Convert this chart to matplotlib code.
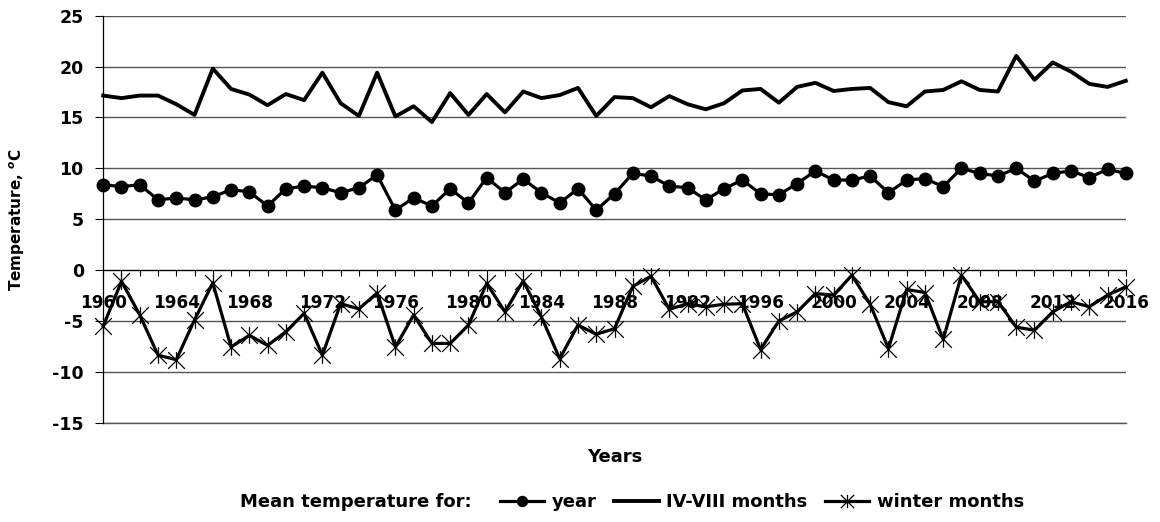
import numpy as np
import matplotlib
matplotlib.use("Agg")
import matplotlib.pyplot as plt
from matplotlib.path import Path

plt.rcParams['font.family'] = ['DejaVu Sans']
plt.rcParams['font.weight'] = 'bold'
plt.rcParams['axes.labelweight'] = 'bold'
plt.rcParams['axes.unicode_minus'] = False
plt.rcParams['mathtext.fontset'] = 'custom'
plt.rcParams['mathtext.rm'] = 'DejaVu Sans:bold'
plt.rcParams['mathtext.bf'] = 'DejaVu Sans:bold'

years = list(range(1960, 2017))

# mean temperature for the year
t_year = [8.4, 8.2, 8.4, 6.9, 7.1, 6.9, 7.2, 7.9, 7.7, 6.3,
          8.0, 8.25, 8.1, 7.6, 8.1, 9.35, 5.9, 7.1, 6.3, 8.0,
          6.6, 9.1, 7.6, 8.95, 7.6, 6.6, 8.0, 5.9, 7.5, 9.5,
          9.25, 8.25, 8.1, 6.9, 8.0, 8.85, 7.5, 7.4, 8.5, 9.75,
          8.85, 8.85, 9.25, 7.6, 8.85, 9.0, 8.2, 10.0, 9.5, 9.25,
          10.0, 8.75, 9.5, 9.75, 9.1, 9.9, 9.5]

# mean temperature for IV-VIII months
t_summer = [17.15, 16.9, 17.15, 17.15, 16.3, 15.25, 19.8, 17.8, 17.25, 16.2,
            17.3, 16.7, 19.4, 16.4, 15.15, 19.4, 15.1, 16.1, 14.55, 17.4,
            15.25, 17.3, 15.5, 17.55, 16.9, 17.2, 17.9, 15.15, 17.0, 16.9,
            16.0, 17.1, 16.3, 15.8, 16.4, 17.65, 17.8, 16.45, 18.0, 18.4,
            17.6, 17.8, 17.9, 16.5, 16.1, 17.55, 17.7, 18.55, 17.7, 17.55,
            21.05, 18.7, 20.4, 19.5, 18.3, 18.0, 18.6]

# mean temperature for winter months
t_winter = [-5.5, -1.1, -4.4, -8.35, -8.8, -4.9, -1.25, -7.55, -6.4, -7.4,
            -6.05, -4.25, -8.35, -3.3, -3.8, -2.25, -7.55, -4.4, -7.2, -7.2,
            -5.4, -1.3, -4.1, -1.05, -4.6, -8.7, -5.4, -6.3, -5.75, -1.6,
            -0.6, -3.85, -3.3, -3.6, -3.35, -3.3, -7.8, -5.0, -4.1, -2.3,
            -2.45, -0.5, -3.35, -7.7, -1.9, -2.2, -6.8, -0.5, -3.1, -3.1,
            -5.6, -5.9, -4.1, -3.1, -3.6, -2.45, -1.65]

tick_labels = [str(y) if (y - 1960) % 4 == 0 else '' for y in years]

# star marker: an X with a vertical bar through it
star = Path([(-1, -1), (1, 1), (-1, 1), (1, -1), (0, -1), (0, 1)],
            [Path.MOVETO, Path.LINETO, Path.MOVETO, Path.LINETO, Path.MOVETO, Path.LINETO])

fig = plt.figure(figsize=(11.6, 5.22), dpi=100)
ax = fig.add_axes([0.089, 0.190, 0.8815, 0.780])

ax.plot(years, t_year, color='black', lw=2.3, marker='o', markersize=9,
        clip_on=False, label='year')
ax.plot(years, t_summer, color='black', lw=2.8, clip_on=False, label='IV-VIII months')
ax.plot(years, t_winter, color='black', lw=2.3, marker=star, markersize=12,
        markeredgewidth=0.9, markerfacecolor='none', clip_on=False, label='winter months')

ax.set_xlim(1960, 2016)
ax.set_ylim(-15, 25)
ax.set_yticks(range(-15, 26, 5))
ax.set_xticks(years)
ax.set_xticklabels(tick_labels)
ax.tick_params(axis='x', length=4.5, width=0.8, direction='out', pad=13, labelsize=12.2)
ax.tick_params(axis='y', length=6, width=0.8, direction='out', pad=8, labelsize=12.5)

ax.grid(axis='y', color='#555555', lw=1.0)
ax.axhline(-15, color='#555555', lw=1.0, clip_on=False, zorder=0.5)
ax.spines['top'].set_visible(False)
ax.spines['right'].set_visible(False)
ax.spines['bottom'].set_position(('data', 0))
ax.spines['bottom'].set_linewidth(0.8)
ax.spines['left'].set_linewidth(0.9)

ax.set_ylabel('Temperature, $^{o}$C', fontsize=11, fontweight='bold')
ax.yaxis.set_label_coords(-0.0745, 0.5)
fig.text(0.530, 0.1245, 'Years', ha='center', va='center', fontsize=13)

fig.text(0.207, 0.038, 'Mean temperature for:', ha='left', va='center', fontsize=13)
fig.legend(loc='center left', bbox_to_anchor=(0.431, 0.038), ncol=3, frameon=False,
           fontsize=13, handlelength=2.45, handletextpad=0.4, columnspacing=1.0,
           borderpad=0, borderaxespad=0, markerscale=0.8)

fig.savefig('out.png', dpi=100)
